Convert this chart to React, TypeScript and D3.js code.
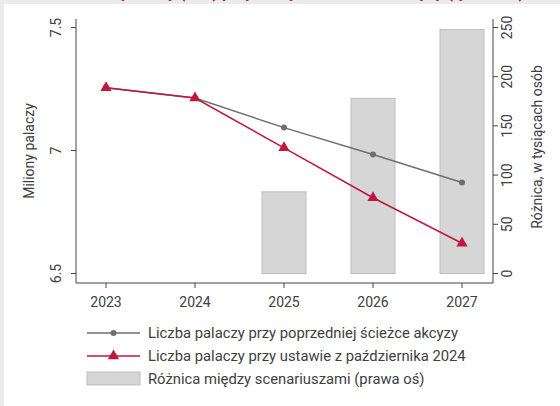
import * as d3 from "d3";
import React from "react";

// data
const years = [2023, 2024, 2025, 2026, 2027];
const previousPath = [7.255, 7.213, 7.093, 6.984, 6.87];
const newLaw = [7.255, 7.213, 7.011, 6.808, 6.623];
const diffYears = [2025, 2026, 2027];
const difference = [83, 178, 248];
const leftTicks = [6.5, 7, 7.5];
const rightTicks = [0, 50, 100, 150, 200, 250];
const legendLabels = [
  "Liczba palaczy przy poprzedniej ścieżce akcyzy",
  "Liczba palaczy przy ustawie z października 2024",
  "Różnica między scenariuszami (prawa oś)",
];
const titleText = "Liczba palaczy (mln) przy różnych ścieżkach akcyzy (tys. osób)";

const W = 560;
const H = 406;
const font = "Roboto, 'Noto Sans', sans-serif";
const textColor = "#404040";
const grayLine = "#6e6e6e";
const red = "#c0173f";

const App = () => {
  const plot = { left: 76, right: 493, top: 19, bottom: 283 };

  const x = d3.scaleLinear().domain([2023, 2027]).range([106, 462]);
  const yLeft = d3.scaleLinear().domain([6.5, 7.5]).range([273.5, 27.5]);
  const yRight = d3.scaleLinear().domain([0, 250]).range([273.5, 27.5]);

  const line = d3
    .line<number>()
    .x((d, i) => x(years[i]))
    .y((d) => yLeft(d));

  const tri = d3.symbol().type(d3.symbolTriangle).size(55)() as string;
  const barW = 44;

  return (
    <svg
      width={W}
      height={H}
      style={{ position: "absolute", left: 0, top: 0, display: "block" }}
      fontFamily={font}
    >
      <rect x={0} y={0} width={W} height={H} fill="#ebebeb" />
      <rect x={4} y={4} width={W - 4} height={H - 4} fill="#ffffff" />
      {/* title cut off at the top edge, only descenders show */}
      <text x={70} y={-2} fill={red} fontSize={16} fontWeight={700}>
        {titleText}
      </text>

      {/* bars on the right axis */}
      {diffYears.map((yr, i) => (
        <rect
          key={yr}
          x={x(yr) - barW / 2}
          y={yRight(difference[i])}
          width={barW}
          height={yRight(0) - yRight(difference[i])}
          fill="#d6d6d6"
          stroke="#bdbdbd"
          strokeWidth={1}
        />
      ))}

      {/* lines */}
      <path d={line(previousPath) || ""} fill="none" stroke={grayLine} strokeWidth={1.5} />
      {previousPath.map((v, i) => (
        <circle key={i} cx={x(years[i])} cy={yLeft(v)} r={3} fill={grayLine} />
      ))}
      <path d={line(newLaw) || ""} fill="none" stroke={red} strokeWidth={1.5} />
      {newLaw.map((v, i) => (
        <path key={i} d={tri} transform={`translate(${x(years[i])},${yLeft(v)})`} fill={red} />
      ))}

      {/* u-shaped frame */}
      <path
        d={`M${plot.left},${plot.top}V${plot.bottom}H${plot.right}V${plot.top}`}
        fill="none"
        stroke="#444"
        strokeWidth={1}
      />

      {/* left axis */}
      {leftTicks.map((t) => (
        <g key={t} transform={`translate(${plot.left},${yLeft(t)})`}>
          <line x1={-5} x2={0} stroke="#444" />
          <text
            transform="translate(-15,0) rotate(-90)"
            textAnchor="middle"
            fontSize={14}
            fill={textColor}
          >
            {String(t)}
          </text>
        </g>
      ))}
      <text
        transform={`translate(34,${(plot.top + plot.bottom) / 2}) rotate(-90)`}
        textAnchor="middle"
        fontSize={14}
        fill={textColor}
      >
        Miliony palaczy
      </text>

      {/* right axis */}
      {rightTicks.map((t) => (
        <g key={t} transform={`translate(${plot.right},${yRight(t)})`}>
          <line x1={0} x2={5} stroke="#444" />
          <text
            transform="translate(19,0) rotate(-90)"
            textAnchor="middle"
            fontSize={14}
            fill={textColor}
          >
            {String(t)}
          </text>
        </g>
      ))}
      <text
        transform={`translate(542,${(plot.top + plot.bottom) / 2 - 4}) rotate(-90)`}
        textAnchor="middle"
        fontSize={14}
        fill={textColor}
      >
        Różnica, w tysiącach osób
      </text>

      {/* x axis */}
      {years.map((yr) => (
        <g key={yr} transform={`translate(${x(yr)},${plot.bottom})`}>
          <line y1={0} y2={5} stroke="#444" />
          <text y={24} textAnchor="middle" fontSize={14} fill={textColor}>
            {String(yr)}
          </text>
        </g>
      ))}

      {/* legend */}
      <g>
        <line x1={87} x2={140} y1={333} y2={333} stroke={grayLine} strokeWidth={1.5} />
        <circle cx={113.5} cy={333} r={3} fill={grayLine} />
        <text x={148} y={333} dy="0.35em" fontSize={14.8} fill={textColor}>
          {legendLabels[0]}
        </text>
        <line x1={87} x2={140} y1={356} y2={356} stroke={red} strokeWidth={1.5} />
        <path d={tri} transform="translate(113.5,356)" fill={red} />
        <text x={148} y={356} dy="0.35em" fontSize={14.8} fill={textColor}>
          {legendLabels[1]}
        </text>
        <rect x={87} y={372} width={53} height={13} fill="#d6d6d6" stroke="#bdbdbd" />
        <text x={148} y={379} dy="0.35em" fontSize={14.8} fill={textColor}>
          {legendLabels[2]}
        </text>
      </g>
    </svg>
  );
};

export default App;
